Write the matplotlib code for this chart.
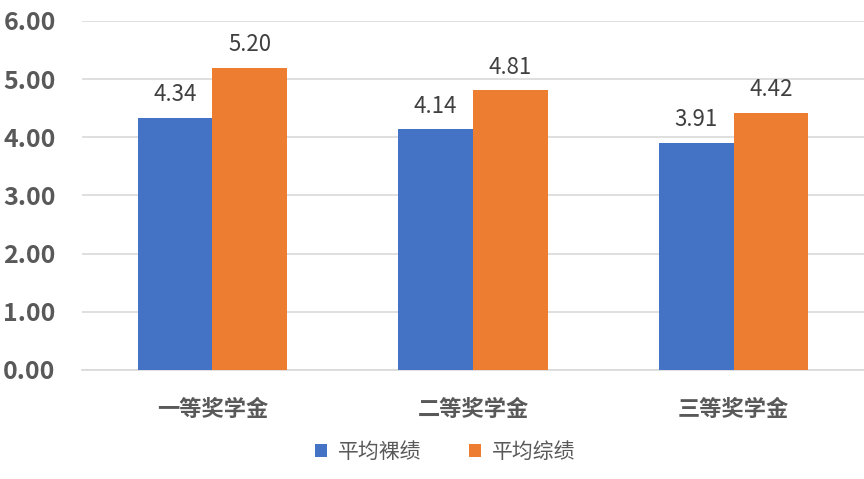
import numpy as np
import matplotlib.pyplot as plt

plt.rcParams['font.family'] = ['Noto Sans CJK SC', 'DejaVu Sans']

# data
categories = ['一等奖学金', '二等奖学金', '三等奖学金']
series_names = ['平均裸绩', '平均综绩']
avg_raw = [4.34, 4.14, 3.91]
avg_total = [5.20, 4.81, 4.42]
yticks = [0, 1, 2, 3, 4, 5, 6]

colors = ['#4472C4', '#ED7D31']

fig = plt.figure(figsize=(8.64, 4.79), dpi=100)
ax = fig.add_axes([0.095, 0.2276, 0.905, 0.7286])

x = np.arange(len(categories))
w = 0.287
bars1 = ax.bar(x - w/2, avg_raw, w, color=colors[0], label=series_names[0], zorder=3)
bars2 = ax.bar(x + w/2, avg_total, w, color=colors[1], label=series_names[1], zorder=3)

for bars in (bars1, bars2):
    for b in bars:
        ax.text(b.get_x() + b.get_width()/2, b.get_height() + 0.2, f'{b.get_height():.2f}',
                ha='center', va='bottom', fontsize=16, color='#404040')

ax.set_xlim(-0.5, 2.5)
ax.set_ylim(0, 6)
ax.set_yticks(yticks)
ax.set_yticklabels([f'{v:.2f}' for v in yticks], fontsize=18, fontweight='bold', color='#595959')
ax.set_xticks(x)
ax.set_xticklabels(categories, fontsize=16, fontweight='bold', color='#595959')
ax.tick_params(axis='both', length=0)
ax.tick_params(axis='y', pad=19)
ax.tick_params(axis='x', pad=20)

ax.grid(axis='y', color='#d9d9d9', linewidth=1.2, zorder=0)
for s in ['top', 'right', 'left']:
    ax.spines[s].set_visible(False)
ax.spines['bottom'].set_color('#d9d9d9')
ax.spines['bottom'].set_linewidth(1.2)

leg = fig.legend(handles=[bars1, bars2], labels=series_names, loc='center',
                 bbox_to_anchor=(0.515, 0.056), ncol=2, frameon=False,
                 fontsize=15, handlelength=0.6, handleheight=0.6,
                 columnspacing=2.3, handletextpad=0.5)
for t in leg.get_texts():
    t.set_color('#595959')

fig.savefig('out.png', dpi=100)
